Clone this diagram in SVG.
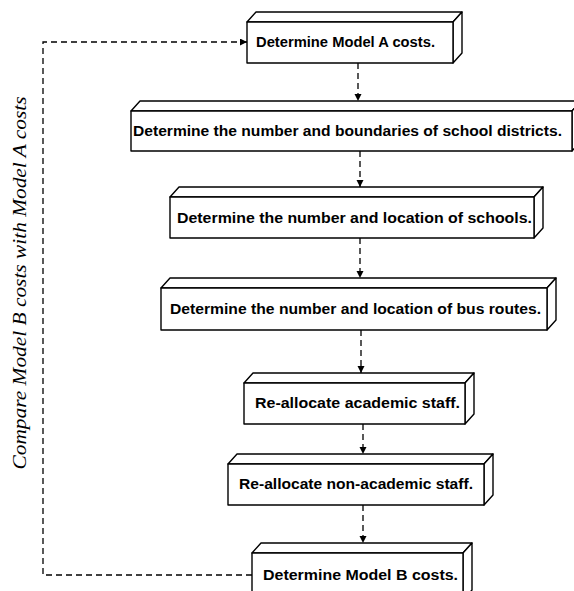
<svg xmlns="http://www.w3.org/2000/svg" width="574" height="591" viewBox="0 0 574 591">
<style>
.box rect, .box polygon { fill: #fff; stroke: #000; stroke-width: 1.4; stroke-linejoin: round; }
.box text { font-family: "Liberation Sans", Arial, sans-serif; font-weight: bold; font-size: 14px; fill: #000; text-anchor: middle; }
.conn path { fill: none; stroke: #000; stroke-width: 1.3; stroke-dasharray: 6 4; }
.lbl { font-family: "Liberation Serif", "Times New Roman", serif; font-style: italic; font-size: 19px; fill: #000; text-anchor: middle; }
</style>
<defs>
<marker id="ah" markerUnits="userSpaceOnUse" markerWidth="8" markerHeight="8" refX="7" refY="3.5" orient="auto">
<path d="M0,0 L7,3.5 L0,7 z" fill="#000"/>
</marker>
</defs>
<rect width="574" height="591" fill="#fff"/>

<g id="connectors" class="conn">
<path d="M358,63 V101" marker-end="url(#ah)"/>
<path d="M360,151 V187" marker-end="url(#ah)"/>
<path d="M360,238 V278" marker-end="url(#ah)"/>
<path d="M361,330 V373" marker-end="url(#ah)"/>
<path d="M363,424 V454" marker-end="url(#ah)"/>
<path d="M363,505 V543" marker-end="url(#ah)"/>
<path d="M252,575 H43 V42 H247" marker-end="url(#ah)"/>
</g>

<text id="feedback-label" class="lbl" transform="translate(26,283) rotate(-90)" textLength="373" lengthAdjust="spacingAndGlyphs">Compare Model B costs with Model A costs</text>

<g id="n1" class="box">
<polygon points="247,22 256,12 462,12 453,22"/>
<polygon points="453,22 462,12 462,53 453,63"/>
<rect x="247" y="22" width="206" height="41"/>
<text x="345.5" y="47" textLength="179" lengthAdjust="spacingAndGlyphs">Determine Model A costs.</text>
</g>

<g id="n2" class="box">
<polygon points="131,111 140,101 581,101 572,111"/>
<polygon points="572,111 581,101 581,141 572,151"/>
<rect x="131" y="111" width="441" height="40"/>
<text x="347.5" y="136" textLength="429" lengthAdjust="spacingAndGlyphs">Determine the number and boundaries of school districts.</text>
</g>

<g id="n3" class="box">
<polygon points="170,197 179,187 543,187 534,197"/>
<polygon points="534,197 543,187 543,228 534,238"/>
<rect x="170" y="197" width="364" height="41"/>
<text x="354.5" y="223" textLength="355" lengthAdjust="spacingAndGlyphs">Determine the number and location of schools.</text>
</g>

<g id="n4" class="box">
<polygon points="161,288 170,278 556,278 547,288"/>
<polygon points="547,288 556,278 556,320 547,330"/>
<rect x="161" y="288" width="386" height="42"/>
<text x="355.5" y="314" textLength="371" lengthAdjust="spacingAndGlyphs">Determine the number and location of bus routes.</text>
</g>

<g id="n5" class="box">
<polygon points="244,383 253,373 474,373 465,383"/>
<polygon points="465,383 474,373 474,414 465,424"/>
<rect x="244" y="383" width="221" height="41"/>
<text x="357.5" y="408" textLength="205" lengthAdjust="spacingAndGlyphs">Re-allocate academic staff.</text>
</g>

<g id="n6" class="box">
<polygon points="228,464 237,454 493,454 484,464"/>
<polygon points="484,464 493,454 493,495 484,505"/>
<rect x="228" y="464" width="256" height="41"/>
<text x="356" y="489" textLength="234" lengthAdjust="spacingAndGlyphs">Re-allocate non-academic staff.</text>
</g>

<g id="n7" class="box">
<polygon points="252,553 261,543 472,543 463,553"/>
<polygon points="463,553 472,543 472,590 463,600"/>
<rect x="252" y="553" width="211" height="47"/>
<text x="360.5" y="580" textLength="195" lengthAdjust="spacingAndGlyphs">Determine Model B costs.</text>
</g>
</svg>
